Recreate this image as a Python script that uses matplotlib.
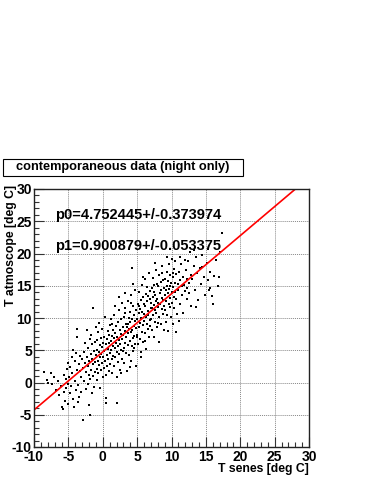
import numpy as np
import matplotlib
matplotlib.use('Agg')
import matplotlib.pyplot as plt
from matplotlib.patches import Rectangle
from matplotlib.ticker import MultipleLocator

#%% data

title = 'contemporaneous data (night only)'
x_label = 'T senes [deg C]'
y_label = 'T atmoscope [deg C]'
p0, p0_err = 4.752445, 0.373974
p1, p1_err = 0.900879, 0.053375
ticks = [-10, -5, 0, 5, 10, 15, 20, 25, 30]

# scatter points (x = T senes, y = T atmoscope)
pts = [
    (-8.6, 1.6), (-8.1, 0.4), (-7.9, -0.1), (-7.5, 1.5), (-7.1, 0.9), (-7.4, -0.2),
    (-6.8, -1.2), (-6.5, 0.3), (-6.3, -2.0), (-6.1, -0.6), (-5.9, -3.8), (-5.8, -4.1),
    (-5.7, 1.2), (-5.6, -1.5), (-5.5, -2.8), (-5.4, 0.6), (-5.3, -0.9), (-5.2, 2.1),
    (-5.1, -3.3), (-5.0, 3.0), (-5.05, -0.2),
    (-4.9, 0.9), (-4.8, -1.7), (-4.7, 2.4), (-4.6, -0.5), (-4.5, 1.5), (-4.4, -2.6),
    (-4.3, 5.0), (-4.2, -3.8), (-4.1, 0.2), (-4.0, 3.4), (-3.9, -1.1), (-3.8, 1.9),
    (-3.7, 8.3), (-3.7, 7.1), (-3.6, -0.4), (-3.5, 2.8), (-3.4, -2.2), (-3.3, 4.1),
    (-3.2, 0.8), (-3.1, -1.4), (-3.05, 3.6), (-4.45, 3.9), (-3.85, 4.6), (-3.25, 1.8),
    (-3.55, -3.0),
    (-2.9, -5.8), (-2.9, 2.2), (-2.8, 4.7), (-2.7, 0.3), (-2.6, 3.1), (-2.55, 6.2),
    (-2.5, -1.0), (-2.4, 1.7), (-2.3, 8.1), (-2.3, 4.0), (-2.2, -0.3), (-2.15, 2.6),
    (-2.1, 5.4), (-2.0, -3.5), (-2.0, 1.2), (-1.95, 3.3), (-1.9, 6.8), (-1.85, -5.0),
    (-1.8, 0.5), (-1.75, 4.4), (-1.7, 2.0), (-1.65, 7.4), (-1.6, -1.6), (-1.55, 3.7),
    (-1.5, 5.9), (-1.45, 1.0), (-1.4, 11.6), (-1.35, 2.9), (-1.3, 4.9), (-1.25, -0.7),
    (-1.2, 6.3), (-1.15, 3.2), (-1.1, 1.6), (-1.05, 8.6),
    (-0.95, 4.2), (-0.9, 2.1), (-0.9, 6.6), (-0.85, 0.4), (-0.8, 5.1), (-0.75, 3.3),
    (-0.7, 7.8), (-0.65, 1.5), (-0.6, 4.7), (-0.55, 9.2), (-0.5, 2.7), (-0.45, 5.8),
    (-0.4, -0.9), (-0.35, 3.9), (-0.3, 6.9), (-0.25, 1.9), (-0.2, 4.4), (-0.15, 8.3),
    (-0.1, 3.0), (-0.05, 5.5), (0.0, 0.8), (0.05, 6.2), (0.1, 4.0), (0.15, 2.3),
    (0.2, 7.1), (0.25, 4.9), (0.3, 10.1), (0.35, 3.4), (0.4, 5.9), (0.45, 1.1),
    (0.5, -2.4), (0.5, -3.2), (0.55, 6.8), (0.6, 4.3), (0.65, 2.6), (0.7, 8.0),
    (0.75, 5.2), (0.8, 3.7), (0.85, 7.4), (0.9, 1.8), (0.95, 6.1),
    (1.0, 4.6), (1.05, 8.9), (1.1, 2.9), (1.15, 6.5), (1.2, 5.0), (1.25, 9.8),
    (1.3, 3.6), (1.35, 7.2), (1.4, 1.4), (1.45, 5.6), (1.5, 8.1), (1.55, 4.1),
    (1.6, 6.9), (1.65, 2.5), (1.7, 10.5), (1.75, 5.3), (1.8, 7.7), (1.85, 3.9),
    (1.9, 6.2), (1.95, 8.8), (2.0, 4.8), (2.05, 0.9), (2.1, -3.2), (2.1, 7.0),
    (2.15, 5.7), (2.2, 9.4), (2.25, 3.2), (2.3, 6.6), (2.35, 11.3), (2.4, 4.4),
    (2.45, 8.2), (2.5, 2.0), (2.55, 6.0), (2.6, 7.5), (2.65, 5.1), (2.7, 9.9),
    (2.75, 3.6), (2.8, 6.8), (2.85, 12.4), (2.9, 4.9), (2.95, 8.6), (1.4, 9.1),
    (2.6, 1.5), (1.8, 11.9), (2.3, 13.2),
    (3.0, 7.3), (3.05, 5.4), (3.1, 10.2), (3.15, 3.1), (3.2, 8.0), (3.25, 6.2),
    (3.3, 11.6), (3.35, 4.5), (3.4, 9.1), (3.45, 7.0), (3.5, 1.8), (3.55, 8.6),
    (3.6, 5.8), (3.65, 12.7), (3.7, 7.6), (3.75, 10.0), (3.8, 4.2), (3.85, 8.3),
    (3.9, 6.5), (3.95, 11.0), (4.0, 9.4), (4.05, 3.3), (4.1, 7.8), (4.15, 13.5),
    (4.2, 5.6), (4.25, 17.75), (4.25, 9.9), (4.3, 8.1), (4.35, 6.9), (4.4, 11.8),
    (4.45, 4.9), (4.5, 10.4), (4.55, 8.7), (4.6, 7.2), (4.65, 14.3), (4.7, 6.0),
    (4.75, 9.6), (4.8, 2.6), (4.85, 11.2), (4.9, 8.4), (4.95, 7.1), (3.3, 13.9),
    (3.9, 2.4), (4.4, 15.2), (3.7, 9.0), (4.6, 5.3), (3.2, 10.8), (4.1, 12.3),
    (5.0, 9.8), (5.05, 7.4), (5.1, 12.1), (5.15, 5.9), (5.2, 10.7), (5.25, 8.6),
    (5.3, 14.0), (5.35, 6.8), (5.4, 11.4), (5.45, 9.2), (5.5, 3.9), (5.55, 12.8),
    (5.6, 10.0), (5.65, 7.9), (5.7, 15.1), (5.75, 11.0), (5.8, 8.9), (5.85, 13.3),
    (5.9, 6.3), (5.95, 10.6), (6.0, 12.2), (6.05, 9.5), (6.1, 16.0), (6.15, 7.7),
    (6.2, 11.8), (6.25, 10.2), (6.3, 13.7), (6.35, 5.2), (6.4, 9.1), (6.45, 12.6),
    (6.5, 14.8), (6.55, 8.3), (6.6, 11.1), (6.65, 10.4), (6.7, 16.9), (6.75, 7.1),
    (6.8, 12.9), (6.85, 9.7), (6.9, 14.2), (6.95, 11.5), (5.3, 11.8), (5.8, 16.3),
    (6.2, 6.4), (6.6, 13.4), (5.6, 4.8), (6.9, 8.8),
    (7.0, 12.3), (7.05, 9.9), (7.1, 14.6), (7.15, 8.1), (7.2, 11.6), (7.25, 13.2),
    (7.3, 10.4), (7.35, 16.2), (7.4, 12.0), (7.45, 7.0), (7.5, 14.0), (7.55, 11.3),
    (7.6, 13.6), (7.65, 9.4), (7.7, 17.4), (7.75, 12.7), (7.8, 10.8), (7.85, 15.3),
    (7.9, 8.6), (7.95, 13.0), (8.0, 11.7), (8.05, 14.9), (8.1, 12.4), (8.15, 6.3),
    (8.2, 16.6), (8.25, 10.1), (8.3, 13.8), (8.35, 12.1), (8.4, 15.6), (8.45, 9.0),
    (8.5, 14.4), (8.55, 11.4), (8.6, 18.1), (8.65, 13.1), (8.7, 10.6), (8.75, 15.9),
    (8.8, 12.8), (8.85, 8.2), (8.9, 14.7), (8.95, 11.9), (7.4, 15.1), (8.0, 9.3),
    (8.6, 16.9), (7.6, 18.6),
    (9.0, 13.5), (9.05, 11.2), (9.1, 16.1), (9.15, 9.4), (9.2, 14.3), (9.25, 12.6),
    (9.3, 17.2), (9.35, 10.5), (9.4, 15.0), (9.45, 13.8), (9.5, 8.0), (9.55, 15.8),
    (9.6, 12.1), (9.65, 18.4), (9.7, 14.5), (9.75, 11.7), (9.8, 16.6), (9.85, 13.1),
    (9.9, 10.2), (9.95, 15.4), (10.0, 14.0), (10.05, 19.2), (10.1, 12.4), (10.15, 16.3),
    (10.2, 9.1), (10.25, 14.8), (10.3, 13.3), (10.35, 17.6), (10.4, 11.5), (10.45, 15.5),
    (10.5, 14.1), (10.55, 18.9), (10.6, 12.9), (10.7, 16.8), (10.8, 10.6), (10.9, 15.2),
    (10.65, 7.8), (9.3, 19.5), (10.2, 17.0), (9.8, 14.9),
    (11.0, 14.4), (11.1, 17.1), (11.2, 12.2), (11.3, 15.9), (11.4, 18.3), (11.5, 13.6),
    (11.6, 16.4), (11.7, 10.8), (11.8, 15.1), (11.9, 19.0), (12.0, 14.2), (12.1, 17.5),
    (12.2, 12.9), (12.3, 16.0), (12.4, 18.8), (12.5, 13.8), (12.6, 15.5), (12.7, 20.2),
    (12.8, 11.9), (12.9, 16.7), (11.55, 14.9), (12.25, 14.7), (11.15, 9.6), (11.2, 19.5),
    (13.0, 16.1), (13.2, 18.0), (13.4, 14.3), (13.5, 19.4), (13.7, 16.9), (13.9, 12.8),
    (14.1, 17.7), (14.3, 15.2), (14.5, 19.8), (14.7, 16.4), (14.9, 13.6), (13.6, 11.7),
    (14.4, 17.9), (13.3, 20.5),
    (15.1, 18.6), (15.3, 15.9), (15.6, 17.2), (15.6, 14.6), (15.9, 13.4), (16.2, 16.5),
    (16.5, 19.0), (16.8, 15.0), (16.9, 16.4), (17.1, 20.3), (17.3, 23.2), (16.0, 12.2),
    (15.4, 14.3),
]
x_pts = np.array([p[0] for p in pts])
y_pts = np.array([p[1] for p in pts])

#%% plot

plt.rcParams['font.family'] = ['Liberation Sans', 'DejaVu Sans']
plt.rcParams['font.weight'] = 'bold'

fig = plt.figure(figsize=(3.71, 4.80), dpi=100)
ax = fig.add_axes([34/371, 33/480, 275/371, 258/480])

ax.plot(x_pts, y_pts, 's', color='black', markersize=2.0, markeredgewidth=0)

# fit line y = p0 + p1*x, clipped by the axes
xf = np.array([-10, 30])
ax.plot(xf, p0 + p1*xf, color='red', linewidth=1.2)

ax.set_xlim(-10, 30)
ax.set_ylim(-10, 30)
ax.set_xticks(ticks)
ax.set_yticks(ticks)
ax.set_xticklabels([str(t) for t in ticks], fontsize=10, fontweight='bold')
ax.set_yticklabels([str(t) for t in ticks], fontsize=10, fontweight='bold')
ax.xaxis.set_minor_locator(MultipleLocator(1))
ax.yaxis.set_minor_locator(MultipleLocator(1))
ax.tick_params(which='both', direction='in', top=False, right=False,
               width=0.8, color='#333333')
ax.tick_params(which='major', length=7)
ax.tick_params(which='minor', length=3.5)
ax.tick_params(axis='x', pad=2.5)
ax.tick_params(axis='y', pad=1.5)
ax.grid(True, which='major', color='#888888', linestyle=(0, (1, 1)), linewidth=0.7)
for s in ax.spines.values():
    s.set_linewidth(1.0)
    s.set_color('#222222')

ax.text(-6.9, 26.0, 'p0=%f+/-%f' % (p0, p0_err), fontsize=10.5, fontweight='bold',
        va='center', ha='left')
ax.text(-6.9, 21.2, 'p1=%f+/-%f' % (p1, p1_err), fontsize=10.5, fontweight='bold',
        va='center', ha='left')

fig.text(309/371, 1 - 469/480, x_label, fontsize=8.8, fontweight='bold',
         ha='right', va='center')
fig.text(11/371, 1 - 185/480, y_label, fontsize=8.8, fontweight='bold',
         rotation=90, ha='center', va='top')

# title box
fig.patches.append(Rectangle((3/371, 1 - 176/480), 240/371, 17/480,
                             transform=fig.transFigure, facecolor='white',
                             edgecolor='black', linewidth=0.8))
fig.text(123/371, 1 - 167.5/480, title, fontsize=9.2, fontweight='bold',
         ha='center', va='center')

fig.savefig('out.png', dpi=100)
